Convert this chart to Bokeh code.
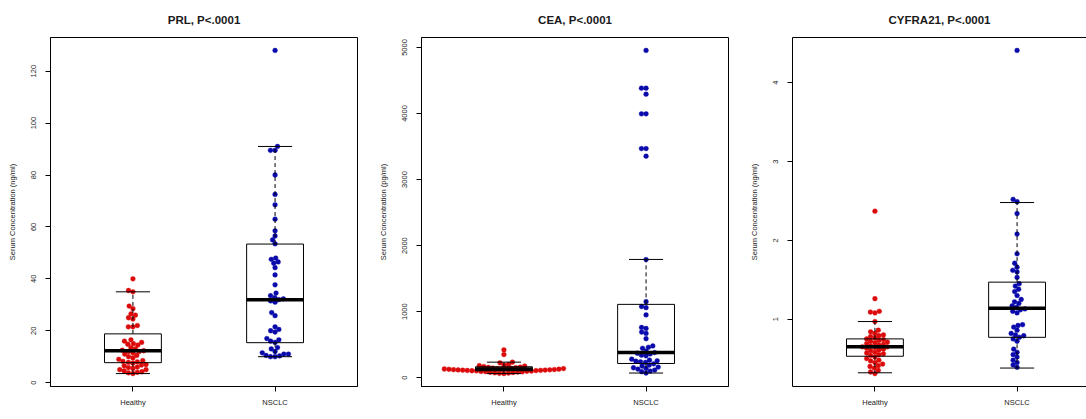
import numpy as np
from bokeh.plotting import figure
from bokeh.layouts import row
from bokeh.models import Range1d, FixedTicker, LinearAxis
from bokeh.embed import file_html
from bokeh.resources import INLINE

groups = ["Healthy", "NSCLC"]

# ---- measured serum levels ----
prl_healthy = [40, 35.5, 35, 29.5, 28.5, 26.5, 26, 25, 24.5, 22, 21.5, 21.5,
               16.5, 16, 15.5, 15, 14.8, 14.5, 13.5, 13, 12.5, 12.3, 12, 12,
               11.5, 11, 10.5, 10, 9.5, 9, 8.5, 8.2, 8, 7.8, 7.5, 7, 6.8, 6.5,
               6, 5.8, 5.5, 5, 5, 4.5, 4.2, 4, 3.8, 3.5]
prl_nsclc = [128, 91, 89.5, 89.5, 80, 72.5, 68.5, 63, 58.5, 56.5, 55, 53.5,
             48, 47.5, 46.5, 46, 44.3, 41.5, 37.7, 34.5, 33.5, 32.8, 32.3, 32,
             31.5, 31, 27, 25.8, 21.5, 20.5, 20, 19.5, 17, 16.5, 16, 15.5,
             13.5, 13, 12, 11.5, 11, 11, 10.5, 10.3, 10, 10]

cea_healthy = [420, 350, 235, 225, 200, 190, 182, 175, 168, 160, 155, 150,
               146, 142, 138, 135, 133, 131, 129, 127, 125, 123, 121, 119, 117,
               115, 113, 111, 109, 107, 105, 103, 100, 97, 94, 91, 88, 85, 82,
               78, 74, 70, 66, 62]
cea_nsclc = [4955, 4383, 4383, 4292, 3995, 3995, 3469, 3469, 3353, 1788, 1151,
             1076, 1060, 950, 760, 745, 690, 670, 590, 480, 460, 445, 400, 380,
             370, 360, 340, 330, 280, 265, 255, 250, 240, 230, 210, 190, 175,
             160, 150, 140, 130, 115, 100, 90, 70]

cyfra_healthy = [2.37, 1.26, 1.10, 1.09, 1.08, 0.97, 0.86, 0.84, 0.82, 0.80,
                 0.79, 0.78, 0.76, 0.75, 0.74, 0.73, 0.72, 0.71, 0.70, 0.69,
                 0.68, 0.67, 0.66, 0.65, 0.65, 0.64, 0.63, 0.62, 0.61, 0.60,
                 0.58, 0.57, 0.56, 0.55, 0.54, 0.52, 0.50, 0.48, 0.47, 0.45,
                 0.43, 0.41, 0.40, 0.38, 0.35, 0.33, 0.31]
cyfra_nsclc = [4.41, 2.52, 2.49, 2.34, 2.08, 1.83, 1.71, 1.66, 1.62, 1.60,
               1.53, 1.45, 1.42, 1.38, 1.35, 1.30, 1.25, 1.22, 1.20, 1.17,
               1.15, 1.13, 1.12, 1.10, 1.08, 0.93, 0.92, 0.90, 0.86, 0.82,
               0.80, 0.79, 0.77, 0.75, 0.72, 0.62, 0.58, 0.55, 0.52, 0.48,
               0.45, 0.42, 0.39]

# box statistics: lower whisker, Q1, median, Q3, upper whisker
prl_box = {"Healthy": [3.5, 7.7, 12.3, 18.8, 35], "NSCLC": [10.0, 15.4, 31.9, 53.4, 91]}
cea_box = {"Healthy": [62, 105, 130, 165, 235], "NSCLC": [70, 215, 380, 1110, 1790]}
cyfra_box = {"Healthy": [0.32, 0.53, 0.65, 0.75, 0.97], "NSCLC": [0.38, 0.77, 1.14, 1.47, 2.48]}

prl_ticks = [0, 20, 40, 60, 80, 100, 120]
cea_ticks = [0, 1000, 2000, 3000, 4000, 5000]
cyfra_ticks = [1, 2, 3, 4]

FONT = "Liberation Sans"
RED = "#dc0a0a"
BLUE = "#0a0aac"
FRAME_W, FRAME_H = 307, 349
X_LO, X_HI = 0.42, 2.58
DOT = 4.8
GAP = 4.6


def swarm_offsets(vals, px_per_y, px_per_x, d=GAP):
    """Beeswarm-style horizontal offsets (data units) so dots do not overlap."""
    vals = np.asarray(vals, dtype=float)
    order = np.argsort(vals, kind="stable")
    placed = []
    out = np.zeros(len(vals))
    for i in order:
        y = vals[i] * px_per_y
        near = [(xj, yj) for xj, yj in placed if abs(yj - y) < d]
        cands = [0.0]
        for xj, yj in near:
            dx = np.sqrt(d * d - (y - yj) ** 2)
            cands += [xj + dx, xj - dx]
        cands.sort(key=lambda c: (abs(c), c))
        best = 0.0
        for c in cands:
            if all((c - xj) ** 2 + (y - yj) ** 2 >= d * d - 1e-6 for xj, yj in near):
                best = c
                break
        placed.append((best, y))
        out[i] = best / px_per_x
    return out


def panel(title, healthy, nsclc, box, ticks, unit, width, clipped=False):
    lo = min(min(healthy), min(nsclc))
    hi = max(max(healthy), max(nsclc))
    pad = 0.04 * (hi - lo)
    y0, y1 = lo - pad, hi + pad
    frame_w = width - 50 - (0 if clipped else 14)
    px_per_x = FRAME_W / (X_HI - X_LO)
    x_hi = X_LO + frame_w / px_per_x
    px_per_y = FRAME_H / (y1 - y0)

    p = figure(width=width, height=419, x_range=Range1d(X_LO, x_hi),
               y_range=Range1d(y0, y1), output_backend="svg",
               toolbar_location=None, title=title,
               min_border_left=50, min_border_right=0 if clipped else 14,
               min_border_top=37, min_border_bottom=33)
    p.background_fill_color = "white"
    p.border_fill_color = "white"
    p.grid.visible = False
    p.outline_line_color = None if clipped else "black"
    p.outline_line_width = 1

    p.title.align = "center"
    p.title.text_font = FONT
    p.title.text_font_size = "11.5px"
    p.title.text_font_style = "bold"
    p.title.text_color = "#1a1a1a"
    p.title.standoff = 23

    # points
    for xi, (g, vals, col) in enumerate([("Healthy", healthy, RED), ("NSCLC", nsclc, BLUE)], start=1):
        offs = swarm_offsets(vals, px_per_y, px_per_x)
        p.scatter(x=xi + offs, y=vals, size=DOT, fill_color=col, line_color=col,
                  line_width=0.4)

    # boxes drawn on top of the points
    half_box, half_cap = 0.2, 0.12
    for xi, g in enumerate(groups, start=1):
        lw, q1, med, q3, uw = box[g]
        p.segment(x0=[xi, xi], y0=[q3, q1], x1=[xi, xi], y1=[uw, lw],
                  line_color="black", line_width=1, line_dash="4 3")
        p.segment(x0=[xi - half_cap] * 2, y0=[uw, lw], x1=[xi + half_cap] * 2,
                  y1=[uw, lw], line_color="black", line_width=1)
        p.quad(left=xi - half_box, right=xi + half_box, bottom=q1, top=q3,
               fill_color=None, line_color="black", line_width=1)
        p.segment(x0=xi - half_box, y0=med, x1=xi + half_box, y1=med,
                  line_color="black", line_width=3.5)

    # axes
    xa = p.xaxis[0]
    xa.ticker = FixedTicker(ticks=[1, 2])
    xa.major_label_overrides = {1: "Healthy", 2: "NSCLC"}
    ya = p.yaxis[0]
    ya.ticker = FixedTicker(ticks=ticks)
    ya.major_label_orientation = "vertical"
    ya.axis_label = "Serum Concentration (%s)" % unit
    ya.axis_label_text_font = FONT
    ya.axis_label_text_font_size = "7.5px"
    ya.axis_label_text_font_style = "normal"
    ya.axis_label_text_color = "#222222"
    ya.axis_label_standoff = 12
    for ax in (xa, ya):
        ax.minor_tick_line_color = None
        ax.major_tick_in = 0
        ax.major_tick_out = 5
        ax.major_tick_line_color = "black"
        ax.axis_line_color = "black"
        ax.major_label_text_font = FONT
        ax.major_label_text_font_size = "7.5px"
        ax.major_label_text_color = "#222222"
        ax.major_label_standoff = 6
    ya.major_label_standoff = 9
    if clipped:
        top = LinearAxis(ticker=FixedTicker(ticks=[]), major_tick_line_color=None,
                         minor_tick_line_color=None, major_label_text_font_size="0px",
                         axis_line_color="black")
        p.add_layout(top, "above")
    return p


p1 = panel("PRL, P<.0001", prl_healthy, prl_nsclc, prl_box, prl_ticks, "ng/ml", 371)
p2 = panel("CEA, P<.0001", cea_healthy, cea_nsclc, cea_box, cea_ticks, "pg/ml", 371)
p3 = panel("CYFRA21, P<.0001", cyfra_healthy, cyfra_nsclc, cyfra_box, cyfra_ticks,
           "ng/ml", 344, clipped=True)

layout = row(p1, p2, p3, spacing=0)
open("out.html", "w").write(file_html(layout, INLINE))
